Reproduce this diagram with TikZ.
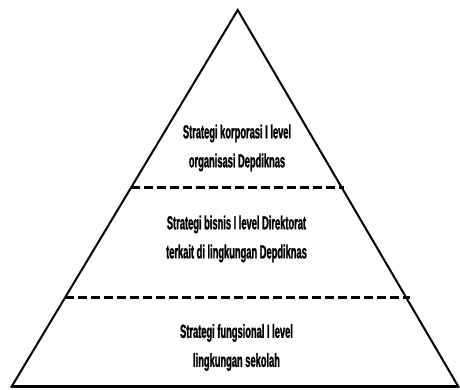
\documentclass[tikz,border=0pt]{standalone}
\usepackage{fontspec}
\setmainfont{Liberation Sans}[FakeStretch=0.49, BoldFeatures={FakeBold=1.2}]
\begin{document}
\begin{tikzpicture}[x=1pt,y=1pt,
  edge/.style={line width=2pt, line join=miter},
  divider/.style={line width=2.6pt, dash pattern=on 8.5pt off 4.5pt},
  label/.style={align=center, font=\bfseries\fontsize{19}{29}\selectfont, inner sep=0pt}]
\useasboundingbox (0,0) rectangle (460,389);
\coordinate (apex) at (237.7,379);
\coordinate (bl) at (11.7,2.5);
\coordinate (br) at (458.3,2.5);
\coordinate (d1l) at (131.3,201.3);
\coordinate (d1r) at (344.1,201.3);
\coordinate (d2l) at (65.3,91.3);
\coordinate (d2r) at (410.1,91.3);
\draw[edge] (apex) -- (br) -- (bl) -- cycle;
\draw[line width=3pt] (bl) -- (br);
\draw[divider] (d1l) -- (d1r);
\draw[divider] (d2l) -- (d2r);
\node[label] (top) at (237,241) {Strategi korporasi I level\\organisasi Depdiknas};
\node[label] (mid) at (236.5,150) {Strategi bisnis I level Direktorat\\terkait di lingkungan Depdiknas};
\node[label] (bot) at (236.5,41.5) {Strategi fungsional I level\\lingkungan sekolah};
\end{tikzpicture}
\end{document}
